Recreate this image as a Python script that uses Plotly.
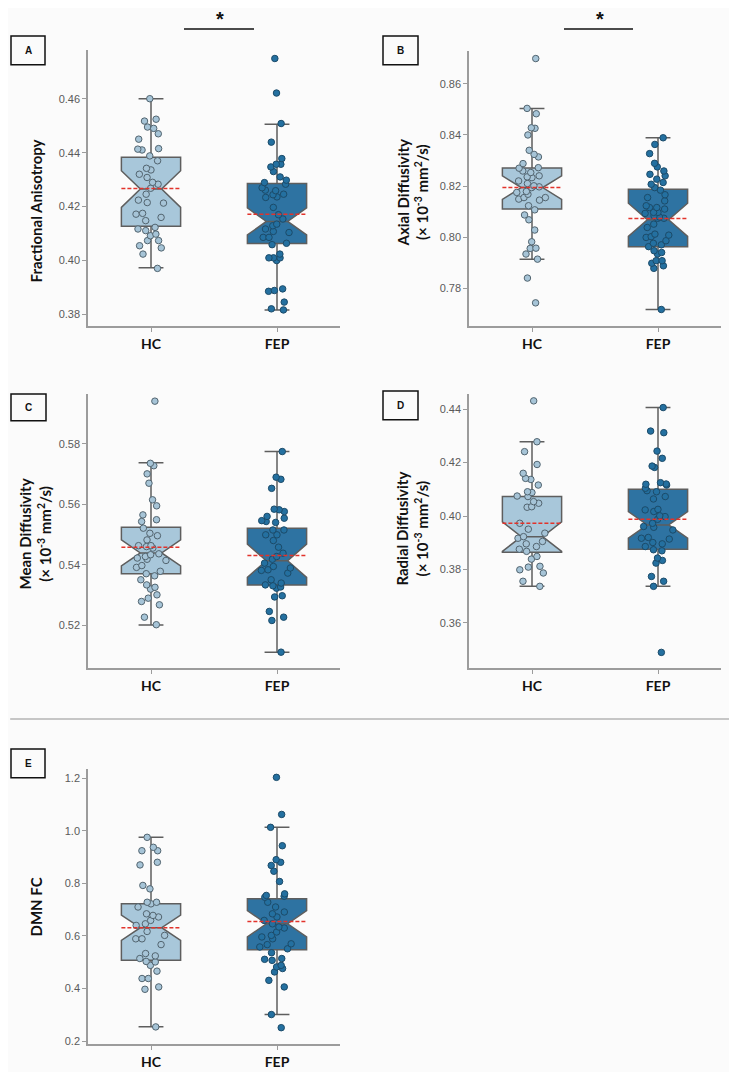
import plotly.graph_objects as go

groups = ["HC", "FEP"]
positions = [0, 1]

# ---------------- Panel A: Fractional Anisotropy ----------------
fa_hc = [0.4600, 0.4517, 0.4524, 0.4495, 0.4490, 0.4470, 0.4450, 0.4413, 0.4415, 0.4410,
         0.4388, 0.4370, 0.4342, 0.4336, 0.4320, 0.4308, 0.4290, 0.4283, 0.4268, 0.4246,
         0.4224, 0.4215, 0.4213, 0.4175, 0.4172, 0.4160, 0.4148, 0.4123, 0.4117, 0.4111,
         0.4098, 0.4092, 0.4074, 0.4074, 0.4047, 0.4055, 0.4024, 0.3971]
fa_fep = [0.4749, 0.4621, 0.4508, 0.4439, 0.4378, 0.4357, 0.4357, 0.4347, 0.4330, 0.4310,
          0.4298, 0.4289, 0.4283, 0.4270, 0.4261, 0.4259, 0.4246, 0.4244, 0.4234, 0.4236,
          0.4197, 0.4170, 0.4154, 0.4135, 0.4129, 0.4117, 0.4108, 0.4104, 0.4086, 0.4086,
          0.4064, 0.4059, 0.4024, 0.4010, 0.4010, 0.4010, 0.4000, 0.3895, 0.3889, 0.3886,
          0.3846, 0.3821, 0.3817]
fa_q1 = [0.4127, 0.4063]
fa_med = [0.4265, 0.4145]
fa_q3 = [0.4383, 0.4286]
fa_lo = [0.3973, 0.3817]
fa_hi = [0.4600, 0.4505]
fa_notch = [0.0068, 0.0050]
fa_mean = [0.4267, 0.4172]

# ---------------- Panel B: Axial Diffusivity ----------------
ad_hc = [0.8699, 0.8504, 0.8483, 0.8428, 0.8426, 0.8400, 0.8340, 0.8324, 0.8314, 0.8288,
         0.8272, 0.8270, 0.8259, 0.8253, 0.8240, 0.8233, 0.8236, 0.8220, 0.8210, 0.8197,
         0.8194, 0.8201, 0.8179, 0.8175, 0.8168, 0.8155, 0.8145, 0.8155, 0.8149, 0.8123,
         0.8107, 0.8087, 0.8068, 0.8028, 0.7982, 0.7957, 0.7956, 0.7934, 0.7914, 0.7840,
         0.7743]
ad_fep = [0.8389, 0.8363, 0.8327, 0.8289, 0.8275, 0.8259, 0.8246, 0.8240, 0.8227, 0.8214,
          0.8207, 0.8194, 0.8184, 0.8166, 0.8155, 0.8142, 0.8123, 0.8110, 0.8116, 0.8116,
          0.8097, 0.8093, 0.8097, 0.8074, 0.8079, 0.8074, 0.8084, 0.8038, 0.8051, 0.8008,
          0.7999, 0.8012, 0.8002, 0.7986, 0.7976, 0.7970, 0.7963, 0.7947, 0.7940, 0.7934,
          0.7908, 0.7898, 0.7908, 0.7888, 0.7878, 0.7717]
ad_q1 = [0.8110, 0.7963]
ad_med = [0.8194, 0.8068]
ad_q3 = [0.8271, 0.8188]
ad_lo = [0.7914, 0.7717]
ad_hi = [0.8504, 0.8389]
ad_notch = [0.0046, 0.0065]
ad_mean = [0.8194, 0.8073]

# ---------------- Panel C: Mean Diffusivity ----------------
md_hc = [0.5942, 0.5728, 0.5736, 0.5701, 0.5670, 0.5615, 0.5595, 0.5565, 0.5549, 0.5543,
         0.5521, 0.5504, 0.5482, 0.5496, 0.5463, 0.5463, 0.5460, 0.5455, 0.5436, 0.5427,
         0.5433, 0.5422, 0.5414, 0.5418, 0.5397, 0.5391, 0.5378, 0.5370, 0.5363, 0.5350,
         0.5333, 0.5325, 0.5319, 0.5300, 0.5289, 0.5278, 0.5267, 0.5226, 0.5201]
md_fep = [0.5775, 0.5683, 0.5690, 0.5653, 0.5584, 0.5582, 0.5576, 0.5554, 0.5546, 0.5560,
          0.5543, 0.5540, 0.5515, 0.5515, 0.5499, 0.5499, 0.5480, 0.5458, 0.5438, 0.5418,
          0.5427, 0.5405, 0.5394, 0.5389, 0.5383, 0.5372, 0.5381, 0.5350, 0.5339, 0.5330,
          0.5333, 0.5326, 0.5322, 0.5297, 0.5293, 0.5245, 0.5226, 0.5215, 0.5110]
md_q1 = [0.5370, 0.5333]
md_med = [0.5439, 0.5413]
md_q3 = [0.5524, 0.5521]
md_lo = [0.5200, 0.5110]
md_hi = [0.5738, 0.5775]
md_notch = [0.0043, 0.0055]
md_mean = [0.5458, 0.5430]

# ---------------- Panel D: Radial Diffusivity ----------------
rd_hc = [0.4431, 0.4278, 0.4241, 0.4193, 0.4160, 0.4137, 0.4141, 0.4116, 0.4091, 0.4088,
         0.4075, 0.4073, 0.4054, 0.4048, 0.4035, 0.4033, 0.3973, 0.3951, 0.3936, 0.3923,
         0.3917, 0.3905, 0.3896, 0.3886, 0.3876, 0.3868, 0.3849, 0.3839, 0.3812, 0.3809,
         0.3799, 0.3787, 0.3756, 0.3737]
rd_fep = [0.4406, 0.4318, 0.4312, 0.4243, 0.4216, 0.4187, 0.4182, 0.4125, 0.4120, 0.4116,
          0.4119, 0.4104, 0.4095, 0.4091, 0.4073, 0.4064, 0.4025, 0.4023, 0.4017, 0.4001,
          0.3998, 0.3988, 0.3973, 0.3958, 0.3961, 0.3948, 0.3920, 0.3917, 0.3914, 0.3901,
          0.3896, 0.3886, 0.3874, 0.3870, 0.3834, 0.3843, 0.3824, 0.3774, 0.3756, 0.3737,
          0.3490]
rd_q1 = [0.3865, 0.3876]
rd_med = [0.3923, 0.3967]
rd_q3 = [0.4073, 0.4100]
rd_lo = [0.3737, 0.3737]
rd_hi = [0.4278, 0.4406]
rd_notch = [0.0055, 0.0050]
rd_mean = [0.3973, 0.3988]

# ---------------- Panel E: DMN FC ----------------
fc_hc = [0.975, 0.937, 0.924, 0.924, 0.880, 0.870, 0.792, 0.779, 0.722, 0.728,
         0.728, 0.710, 0.684, 0.678, 0.672, 0.659, 0.646, 0.640, 0.617, 0.602,
         0.589, 0.589, 0.567, 0.533, 0.524, 0.514, 0.501, 0.503, 0.488, 0.466,
         0.438, 0.438, 0.406, 0.397, 0.254]
fc_fep = [1.203, 1.062, 1.013, 0.943, 0.890, 0.880, 0.868, 0.846, 0.807, 0.754,
          0.747, 0.760, 0.751, 0.728, 0.710, 0.684, 0.691, 0.672, 0.659, 0.646,
          0.634, 0.630, 0.615, 0.596, 0.602, 0.589, 0.567, 0.570, 0.551, 0.558,
          0.536, 0.514, 0.511, 0.507, 0.488, 0.482, 0.476, 0.463, 0.431, 0.406,
          0.301, 0.251]
fc_q1 = [0.5072, 0.5477]
fc_med = [0.6311, 0.6463]
fc_q3 = [0.7221, 0.7411]
fc_lo = [0.2544, 0.3011]
fc_hi = [0.9750, 1.0129]
fc_notch = [0.048, 0.050]
fc_mean = [0.6311, 0.6551]

# ---------------- styling ----------------
W, H = 737, 1072
BG = "#fbfbfb"
box_fill = ["#a8c7da", "#2e73a2"]
pt_fill = ["#a6c4d7", "#2470a0"]
pt_line = ["#52646f", "#1c4b69"]
box_line = "#5e5e5e"
axis_col = "#9c9c9c"
BOXW = 0.47

def px_x(p):
    return p / W

def px_y(p):
    return 1 - p / H

panels = [
    dict(key="A", hc=fa_hc, fep=fa_fep, q1=fa_q1, med=fa_med, q3=fa_q3, lo=fa_lo, hi=fa_hi,
         notch=fa_notch, mean=fa_mean, xdom=(80, 332), ydom=(42, 319), yr=(0.3757, 0.4781),
         ticks=(0.38, 0.46, 0.02), fmt=".2f",
         title="Fractional Anisotropy", tx=28, ty=204, label=(3, 28, 37, 57)),
    dict(key="B", hc=ad_hc, fep=ad_fep, q1=ad_q1, med=ad_med, q3=ad_q3, lo=ad_lo, hi=ad_hi,
         notch=ad_notch, mean=ad_mean, xdom=(461, 713), ydom=(43, 319), yr=(0.7652, 0.8729),
         ticks=(0.78, 0.86, 0.02), fmt=".2f",
         title="Axial Diffusivity<br>(× 10<sup>-3</sup> mm<sup>2</sup>/s)", tx=405, ty=185,
         label=(375, 28, 410, 57)),
    dict(key="C", hc=md_hc, fep=md_fep, q1=md_q1, med=md_med, q3=md_q3, lo=md_lo, hi=md_hi,
         notch=md_notch, mean=md_mean, xdom=(80, 332), ydom=(387, 662), yr=(0.5057, 0.5966),
         ticks=(0.52, 0.58, 0.02), fmt=".2f",
         title="Mean Diffusivity<br>(× 10<sup>-3</sup> mm<sup>2</sup>/s)", tx=27, ty=528,
         label=(3, 387, 38, 414)),
    dict(key="D", hc=rd_hc, fep=rd_fep, q1=rd_q1, med=rd_med, q3=rd_q3, lo=rd_lo, hi=rd_hi,
         notch=rd_notch, mean=rd_mean, xdom=(461, 713), ydom=(387, 662), yr=(0.3431, 0.4457),
         ticks=(0.36, 0.44, 0.02), fmt=".2f",
         title="Radial Diffusivity<br>(× 10<sup>-3</sup> mm<sup>2</sup>/s)", tx=404, ty=522,
         label=(375, 384, 410, 413)),
    dict(key="E", hc=fc_hc, fep=fc_fep, q1=fc_q1, med=fc_med, q3=fc_q3, lo=fc_lo, hi=fc_hi,
         notch=fc_notch, mean=fc_mean, xdom=(80, 332), ydom=(763, 1039), yr=(0.1886, 1.2353),
         ticks=(0.2, 1.2, 0.2), fmt=".1f",
         title="DMN FC", tx=28, ty=902, label=(3, 743, 37, 772)),
]

fig = go.Figure()
annotations = []
shapes = []
layout_axes = {}

for i, p in enumerate(panels):
    n = i + 1
    xa = "x" if n == 1 else f"x{n}"
    ya = "y" if n == 1 else f"y{n}"
    xkey = "xaxis" if n == 1 else f"xaxis{n}"
    ykey = "yaxis" if n == 1 else f"yaxis{n}"
    samples = [p["hc"], p["fep"]]
    for g in range(2):
        pos = positions[g]
        fig.add_trace(go.Box(
            x=[pos], q1=[p["q1"][g]], median=[p["med"][g]], q3=[p["q3"][g]],
            lowerfence=[p["lo"][g]], upperfence=[p["hi"][g]], notchspan=[p["notch"][g]],
            notched=True, notchwidth=0.32, whiskerwidth=0.42, width=BOXW,
            fillcolor=box_fill[g], line=dict(color=box_line, width=1.5),
            boxpoints=False, xaxis=xa, yaxis=ya, showlegend=False, hoverinfo="skip"))
        fig.add_trace(go.Scatter(
            x=[pos - BOXW / 2, pos + BOXW / 2], y=[p["mean"][g], p["mean"][g]],
            mode="lines", line=dict(color="#e2332b", width=1.5, dash="4px,2px"),
            xaxis=xa, yaxis=ya, showlegend=False, hoverinfo="skip"))
        fig.add_trace(go.Box(
            x=[pos] * len(samples[g]), y=samples[g], boxpoints="all", jitter=0.6,
            pointpos=0, width=BOXW, fillcolor="rgba(0,0,0,0)",
            line=dict(color="rgba(0,0,0,0)", width=0),
            marker=dict(size=6.5, color=pt_fill[g], line=dict(color=pt_line[g], width=1)),
            xaxis=xa, yaxis=ya, showlegend=False, hoverinfo="y"))

    t0, t1, dt = p["ticks"]
    nt = int(round((t1 - t0) / dt)) + 1
    tv = [round(t0 + k * dt, 4) for k in range(nt)]
    layout_axes[xkey] = dict(
        domain=[px_x(p["xdom"][0]), px_x(p["xdom"][1])], range=[-0.5, 1.5],
        anchor=ya, tickvals=positions, ticktext=groups, showline=True, linecolor=axis_col,
        linewidth=1.5, ticks="outside", ticklen=4, tickcolor=axis_col, showgrid=False,
        zeroline=False, ticklabelstandoff=0,
        tickfont=dict(family="Lato, Open Sans, sans-serif", size=14, color="#111", weight="bold"))
    layout_axes[ykey] = dict(
        domain=[px_y(p["ydom"][1]), px_y(p["ydom"][0])], range=list(p["yr"]), anchor=xa,
        tickvals=tv, tickformat=p["fmt"], showline=True, linecolor=axis_col, linewidth=1.5,
        ticks="outside", ticklen=4, tickcolor=axis_col, showgrid=False, zeroline=False,
        tickfont=dict(family="Liberation Sans, Arial, sans-serif", size=11, color="#5a5a5a"))

    annotations.append(dict(
        text=f"<b>{p['title']}</b>", x=px_x(p["tx"]), y=px_y(p["ty"]), xref="paper", yref="paper",
        xanchor="center", yanchor="middle", textangle=-90, showarrow=False,
        font=dict(family="Lato, Open Sans, sans-serif", size=15, color="#111")))
    lx0, ly0, lx1, ly1 = p["label"]
    shapes.append(dict(type="rect", xref="paper", yref="paper", x0=px_x(lx0), x1=px_x(lx1),
                       y0=px_y(ly1), y1=px_y(ly0), line=dict(color="#111", width=1.5)))
    annotations.append(dict(
        text=f"<b>{p['key']}</b>", x=px_x((lx0 + lx1) / 2), y=px_y((ly0 + ly1) / 2),
        xref="paper", yref="paper", xanchor="center", yanchor="middle", showarrow=False,
        font=dict(family="Liberation Sans, Arial, sans-serif", size=10, color="#111")))

# significance bars (A and B)
for (x0, x1) in [(176, 246), (556, 625)]:
    shapes.append(dict(type="line", xref="paper", yref="paper", x0=px_x(x0), x1=px_x(x1),
                       y0=px_y(21), y1=px_y(21), line=dict(color="#111", width=1.5)))
    annotations.append(dict(text="<b>*</b>", x=px_x((x0 + x1) / 2 + 1), y=px_y(11),
                            xref="paper", yref="paper", xanchor="center", yanchor="middle",
                            showarrow=False,
                            font=dict(family="Liberation Sans, Arial, sans-serif", size=20,
                                      color="#111")))

# separator line
shapes.append(dict(type="line", xref="paper", yref="paper", x0=0.003, x1=0.997,
                   y0=px_y(713), y1=px_y(713), line=dict(color="#b4b4b4", width=1.5)))

fig.update_layout(
    width=W, height=H, margin=dict(l=0, r=0, t=0, b=0),
    paper_bgcolor=BG, plot_bgcolor=BG, showlegend=False, boxmode="overlay",
    annotations=annotations, shapes=shapes, **layout_axes)

fig.write_html("out.html")
